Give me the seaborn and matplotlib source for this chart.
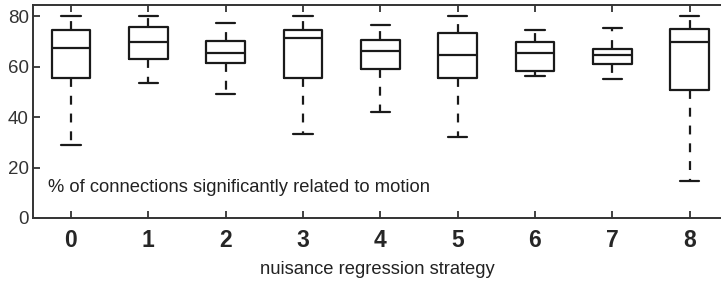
import seaborn as sns
import pandas as pd
import matplotlib.pyplot as plt

sns.set_theme(style="ticks")
plt.rcParams['font.family'] = ['Liberation Sans', 'DejaVu Sans']

# five-number summaries: min, q1, median, q3, max
strategies = ["0", "1", "2", "3", "4", "5", "6", "7", "8"]
lows = [28.9, 53.3, 49.1, 33.1, 42.0, 32.1, 56.2, 55.0, 14.7]
q1s = [55.4, 63.2, 61.4, 55.4, 59.0, 55.4, 58.2, 61.0, 50.7]
medians = [67.3, 69.9, 65.3, 71.3, 66.1, 64.6, 65.3, 64.6, 69.7]
q3s = [74.5, 75.6, 70.3, 74.5, 70.5, 73.5, 69.7, 66.9, 74.9]
highs = [80.0, 80.0, 77.4, 80.0, 76.6, 80.0, 74.5, 75.4, 80.0]

rows = []
for i, s in enumerate(strategies):
    for v in (lows[i], q1s[i], medians[i], q3s[i], highs[i]):
        rows.append({"strategy": s, "pct": v})
df = pd.DataFrame(rows)

fig = plt.figure(figsize=(7.21, 2.83), dpi=100)
ax = fig.add_axes([33 / 721, 65 / 283, 1 - 33 / 721, 213 / 283])

line_col = "#1a1a1a"
sns.boxplot(data=df, x="strategy", y="pct", order=strategies, whis=(0, 100),
            width=0.5, fill=False, color=line_col, linewidth=1.6, ax=ax,
            whiskerprops={"linestyle": (0, (4, 4))}, showfliers=False)

ax.set_xlim(-0.49, 8.405)
ax.set_ylim(0, 84.4)
ax.set_yticks([0, 20, 40, 60, 80])
ax.set_xlabel("nuisance regression strategy", fontsize=13.2, color="#222222", labelpad=6.5)
ax.set_ylabel("")
for sp in ["left", "bottom", "top"]:
    ax.spines[sp].set_color("#333333")
    ax.spines[sp].set_linewidth(1.4)
ax.spines["right"].set_visible(False)
ax.tick_params(axis="x", direction="in", top=True, bottom=True, length=5,
               width=1.3, color="#333333", labelsize=16.5, pad=8)
ax.tick_params(axis="y", direction="in", left=True, length=5, width=1.3,
               color="#333333", labelsize=13.5, pad=3, labelcolor="#333333")
for lab in ax.get_xticklabels():
    lab.set_fontweight("bold")

ax.text(0.022, 0.145, "% of connections significantly related to motion",
        transform=ax.transAxes, fontsize=13.2, color="#222222", va="center")

fig.savefig("out.png", dpi=100)
